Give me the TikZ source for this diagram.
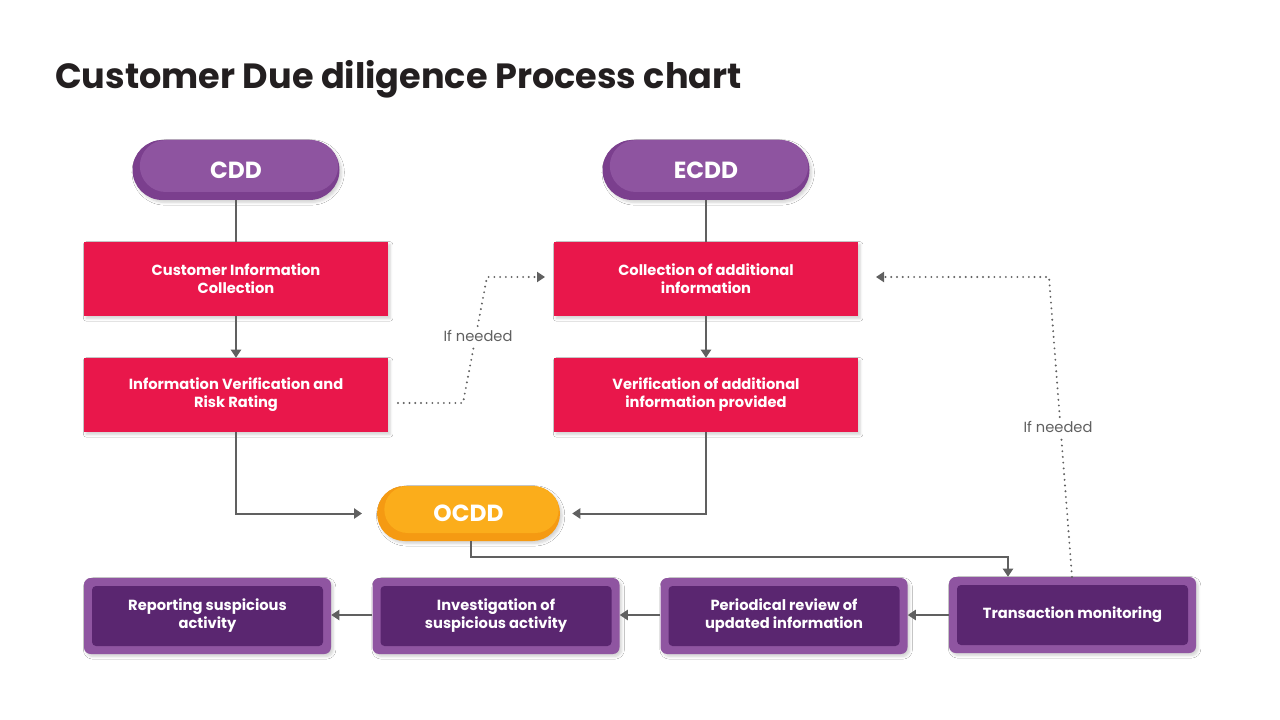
\documentclass[tikz,border=0pt]{standalone}
\usepackage{fontspec}
\setmainfont{Poppins}
\usetikzlibrary{shadows.blur,arrows.meta}
\definecolor{redA}{HTML}{E9174B}
\definecolor{purpD}{HTML}{7B3F8E}
\definecolor{purpL}{HTML}{8E54A0}
\definecolor{orD}{HTML}{F59A12}
\definecolor{orL}{HTML}{FBAD1B}
\definecolor{boxOut}{HTML}{8F55A1}
\definecolor{boxIn}{HTML}{5A2670}
\definecolor{lineC}{HTML}{606060}
\definecolor{titleC}{HTML}{231F20}
\tikzset{
  sh/.style={blur shadow={shadow xshift=1.6pt, shadow yshift=-1.8pt, shadow blur radius=2pt, shadow blur steps=5, shadow opacity=18}},
  boxtext/.style={text=white, font=\bfseries\fontsize{11}{13.5}\selectfont, align=center},
  redbox/.style={sh, fill=redA, minimum width=228pt, minimum height=55.5pt, inner sep=0pt, boxtext},
  pill/.style n args={4}{sh, fill=#1, rounded corners=#3, minimum width=#2, minimum height=#4, inner sep=0pt,
     text=white, font=\bfseries\fontsize{17.5}{19}\selectfont,
     path picture={\fill[pillL, rounded corners=#3-3pt] ([xshift=5.5pt]path picture bounding box.north west) rectangle ([xshift=-1pt,yshift=6pt]path picture bounding box.south east);}},
  bbox/.style={sh, fill=boxOut, rounded corners=5pt, minimum width=185.25pt, minimum height=57pt, inner sep=0pt, boxtext,
     path picture={\fill[boxIn, rounded corners=3pt] ([xshift=6pt,yshift=-6pt]path picture bounding box.north west) rectangle ([xshift=-6pt,yshift=6pt]path picture bounding box.south east);}},
  conn/.style={draw=lineC, line width=1.5pt},
  arr/.style={conn, -{Triangle[length=6pt,width=7.5pt]}},
  dots/.style={draw=lineC, line width=1.6pt, line cap=round, dash pattern=on 0pt off 4.3pt, -{Triangle[length=6pt,width=7.5pt]}},
  note/.style={fill=white, text=lineC, font=\fontsize{11}{12}\selectfont, inner sep=2pt}
}
\begin{document}
\begin{tikzpicture}[x=0.75pt,y=-0.75pt]
\useasboundingbox (0,0) rectangle (1280,720);
\fill[white] (0,0) rectangle (1280,720);

\node[anchor=base west, text=titleC, font=\bfseries\fontsize{26.3}{30}\selectfont, inner sep=0pt] (title) at (55,89) {Customer Due diligence Process chart};

% pills
\colorlet{pillL}{purpL}
\node[pill={purpD}{155.25pt}{22.5pt}{45pt}] (cdd) at (236,170) {CDD};
\node[pill={purpD}{155.25pt}{22.5pt}{45pt}] (ecdd) at (706,170) {ECDD};
\begin{scope}
\colorlet{pillL}{orL}
\node[pill={orD}{137.25pt}{20.6pt}{41.25pt}] (ocdd) at (468.5,513.5) {OCDD};
\end{scope}

% red boxes
\node[redbox] (cic) at (236,279) {Customer Information\\Collection};
\node[redbox] (ivr) at (236,395) {Information Verification and\\Risk Rating};
\node[redbox] (coa) at (706,279) {Collection of additional\\information};
\node[redbox] (voa) at (706,395) {Verification of additional\\information provided};

% bottom boxes
\node[bbox] (rsa) at (207.5,616) {Reporting suspicious\\activity};
\node[bbox] (isa) at (496,616) {Investigation of\\suspicious activity};
\node[bbox] (pru) at (784,616) {Periodical review of\\updated information};
\node[bbox] (tm) at (1072.5,615) {Transaction monitoring};

% connectors
\draw[conn] (cdd.south) -- (cic.north);
\draw[arr] (cic) -- (ivr);
\draw[conn] (ecdd.south) -- (coa.north);
\draw[arr] (coa) -- (voa);
\draw[arr] (ivr.south) |- ([xshift=-11pt]ocdd.west);
\draw[arr] (voa.south) |- ([xshift=9pt]ocdd.east);
\coordinate (c1) at (1008,557);
\draw[arr] ([xshift=1.5pt]ocdd.south) |- (c1) -- (c1 |- tm.north);
\draw[arr] (tm.west) -- (pru.east |- tm.west);
\draw[arr] (pru.west |- tm.west) -- (isa.east |- tm.west);
\draw[arr] (isa.west |- tm.west) -- (rsa.east |- tm.west);

% dotted "If needed"
\coordinate (d1) at (398,403);
\coordinate (d2) at (463,403);
\coordinate (d3) at (487,277);
\coordinate (d4) at (545,277);
\draw[dots] (d1) -- (d2) -- (d3) -- (d4);
\node[note] (n1) at (478,336) {If needed};

\coordinate (e1) at (1072,577);
\coordinate (e2) at (1049,277);
\coordinate (e3) at (876,277);
\draw[dots] (e1) -- (e2) -- (e3);
\node[note] (n2) at (1058,427) {If needed};
\end{tikzpicture}
\end{document}
